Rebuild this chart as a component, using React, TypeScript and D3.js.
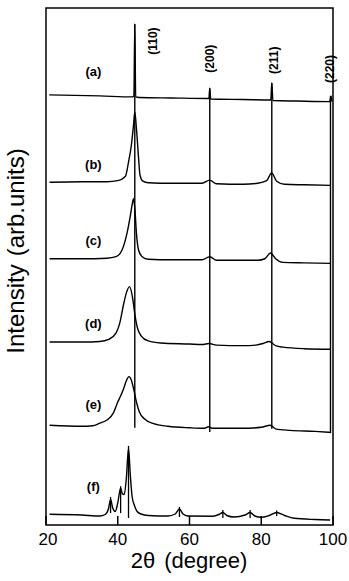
import * as d3 from "d3";
import React from "react";

// 2-theta (deg), intensity (arb. units, 0-100 across plot height)
const patA: [number, number][] = [
  [20.9, 83.2], [35, 83.0], [43.9, 82.8], [44.5, 83.0], [44.75, 96.9], [45.0, 82.8],
  [46, 82.7], [55, 82.6], [65.4, 82.5], [65.65, 84.5], [65.9, 82.4], [75, 82.3],
  [82.65, 82.2], [82.94, 85.5], [83.25, 82.1], [90, 82.0], [99.1, 81.9], [99.44, 83.0], [99.7, 81.9],
];
const patB: [number, number][] = [
  [21, 66.3], [30, 66.4], [37, 66.4], [40, 66.6], [42.1, 67.4], [43.0, 70.2], [43.8, 73.5],
  [44.4, 77.4], [44.75, 79.9], [45.2, 76.8], [45.8, 71.0], [46.2, 67.7], [47.0, 66.5],
  [48.5, 66.2], [55, 66.1], [63.5, 66.1], [65.65, 66.7], [67.5, 66.0], [75, 65.9],
  [79, 66.1], [81.5, 66.6], [82.9, 68.1], [84.3, 66.5], [86.5, 65.9], [92, 65.8], [99.4, 65.7],
];
const patC: [number, number][] = [
  [21, 51.5], [30, 51.5], [37, 51.6], [39.5, 51.9], [41.2, 53.2], [42.6, 56.5], [43.5, 59.8],
  [44.0, 61.9], [44.4, 63.1], [44.8, 60.9], [45.2, 56.5], [45.8, 53.2], [46.8, 51.9],
  [48.5, 51.4], [55, 51.3], [63.5, 51.3], [65.65, 51.9], [67.5, 51.2], [75, 51.2],
  [79, 51.2], [81, 51.5], [82.6, 52.6], [84, 51.5], [86, 50.8], [92, 50.7], [99.4, 50.6],
];
const patD: [number, number][] = [
  [21, 35.4], [30, 35.4], [35, 35.5], [37.5, 35.9], [39.5, 37.1], [40.5, 38.9], [41.6, 42.6],
  [42.4, 44.9], [43.3, 46.1], [44.1, 44.1], [44.8, 40.6], [45.5, 38.1], [46.5, 36.6],
  [48.5, 35.6], [52, 35.2], [60, 35.0], [63.5, 34.9], [65.5, 35.1], [67.5, 34.8], [75, 34.7],
  [78.5, 34.8], [80.5, 35.1], [82.2, 35.5], [84, 34.7], [86, 34.4], [92, 34.1], [99.4, 34.0],
];
const patE: [number, number][] = [
  [21, 19.3], [30, 19.1], [33, 19.2], [35, 19.7], [37, 20.3], [38.8, 21.7], [40.0, 23.8],
  [40.7, 24.8], [41.6, 26.3], [42.4, 27.9], [43.1, 28.7], [43.8, 28.0], [44.5, 26.1],
  [45.2, 23.8], [46.0, 21.9], [47.5, 20.5], [50, 19.6], [54, 19.1], [60, 18.8], [64, 18.7],
  [65.3, 19.0], [66.5, 18.7], [75, 18.7], [80, 18.9], [82.5, 19.3], [84, 18.6], [88, 18.3],
  [95, 18.1], [99.4, 17.9],
];
const patF: [number, number][] = [
  [21, 2.07], [30, 1.93], [35, 1.74], [36.5, 2.03], [37.4, 3.09], [38.0, 4.93], [38.6, 3.29],
  [39.3, 2.61], [40.0, 4.26], [40.8, 7.16], [41.3, 6.0], [41.8, 5.9], [42.4, 9.09],
  [43.0, 14.8], [43.5, 9.67], [44.0, 5.51], [44.7, 3.68], [45.4, 2.61], [46.5, 2.13],
  [48.5, 1.84], [54, 1.74], [56, 2.13], [57.2, 3.09], [58.2, 2.13], [59.5, 1.74],
  [66.5, 1.7], [68.2, 2.03], [69.3, 2.42], [70.4, 1.84], [72.4, 1.55], [75.5, 1.93],
  [76.9, 2.42], [78.2, 1.74], [80, 1.49], [82.2, 1.84], [84.3, 2.42], [86.5, 1.84],
  [89.2, 1.3], [95, 1.06], [99.2, 0.97],
];
const patterns = [patA, patB, patC, patD, patE, patF];
const patternNames = ["(a)", "(b)", "(c)", "(d)", "(e)", "(f)"];
const patternLabelY = [86.8, 68.9, 54.2, 38.1, 22.4, 6.6];

// reference lines for the bcc reflections: 2theta, top, bottom
const hklNames = ["(110)", "(200)", "(211)", "(220)"];
const hklTheta = [44.75, 65.65, 82.94, 99.3];
const hklTop = [96.9, 84.5, 85.5, 83.0];
const hklBottom = [18.8, 18.0, 18.6, 17.8];
const hklLabelTheta = [49.9, 65.8, 83.5, 99.2];
const hklLabelY = [93.6, 90.2, 89.9, 88.2];

// markers on pattern (f)
const markTheta = [38.0, 40.8, 43.0, 57.2, 69.3, 76.9, 84.3];
const markTop = [5.4, 7.5, 15.3, 3.5, 2.9, 2.9, 2.8];
const markBottom = [2.3, 2.3, 1.35, 1.55, 1.35, 1.35, 1.74];

const xTicks = [20, 40, 60, 80, 100];

const W = 349;
const H = 581;
const font = "'Liberation Sans', Arial, Helvetica, sans-serif";

export default function App() {
  const x = d3.scaleLinear().domain([20, 100]).range([46, 333]);
  const y = d3.scaleLinear().domain([0, 100]).range([525, 8]);
  const line = d3
    .line<[number, number]>()
    .x((d) => x(d[0]))
    .y((d) => y(d[1]))
    .curve(d3.curveMonotoneX);

  return (
    <svg
      width={W}
      height={H}
      viewBox={`0 0 ${W} ${H}`}
      style={{ position: "absolute", left: 0, top: 0, background: "#fff" }}
    >
      <rect x={0} y={0} width={W} height={H} fill="#fff" />
      {/* frame */}
      <rect
        x={x(20)}
        y={y(100)}
        width={x(100) - x(20)}
        height={y(0) - y(100)}
        fill="none"
        stroke="#000"
        strokeWidth={1.5}
      />
      {/* inner ticks */}
      {xTicks.map((t) => (
        <line key={"t" + t} x1={x(t)} x2={x(t)} y1={y(0)} y2={y(0) - 9} stroke="#000" strokeWidth={1.5} />
      ))}
      {xTicks.map((t) => (
        <text
          key={"tl" + t}
          x={x(t) + (t === 20 ? 2 : 0)}
          y={545}
          textAnchor="middle"
          fontFamily={font}
          fontSize={17}
        >
          {t}
        </text>
      ))}
      <text x={189} y={568} textAnchor="middle" fontFamily={font} fontSize={22}>
        2θ<tspan dx={9}>(degree)</tspan>
      </text>
      <text
        transform={`translate(24,251) rotate(-90)`}
        textAnchor="middle"
        fontFamily={font}
        fontSize={24}
      >
        Intensity<tspan dx={8}>(arb.units)</tspan>
      </text>

      {/* reference lines */}
      {hklTheta.map((t, i) => (
        <line
          key={"h" + i}
          x1={x(t)}
          x2={x(t)}
          y1={y(hklTop[i])}
          y2={y(hklBottom[i])}
          stroke="#000"
          strokeWidth={1.4}
        />
      ))}
      {hklNames.map((n, i) => (
        <text
          key={"hl" + i}
          transform={`translate(${x(hklLabelTheta[i])},${y(hklLabelY[i])}) rotate(-90)`}
          textAnchor="middle"
          dominantBaseline="central"
          fontFamily={font}
          fontWeight="bold"
          fontSize={12}
        >
          {n}
        </text>
      ))}

      {/* patterns */}
      {patterns.map((p, i) => (
        <path key={"p" + i} d={line(p) ?? ""} fill="none" stroke="#000" strokeWidth={1.4} />
      ))}
      {patternNames.map((n, i) => (
        <text
          key={"pl" + i}
          x={x(33.2)}
          y={y(patternLabelY[i])}
          textAnchor="middle"
          fontFamily={font}
          fontWeight="bold"
          fontSize={13}
        >
          {n}
        </text>
      ))}

      {/* peak markers on (f) */}
      {markTheta.map((t, i) => (
        <line
          key={"m" + i}
          x1={x(t)}
          x2={x(t)}
          y1={y(markTop[i])}
          y2={y(markBottom[i])}
          stroke="#000"
          strokeWidth={1.3}
        />
      ))}
    </svg>
  );
}
